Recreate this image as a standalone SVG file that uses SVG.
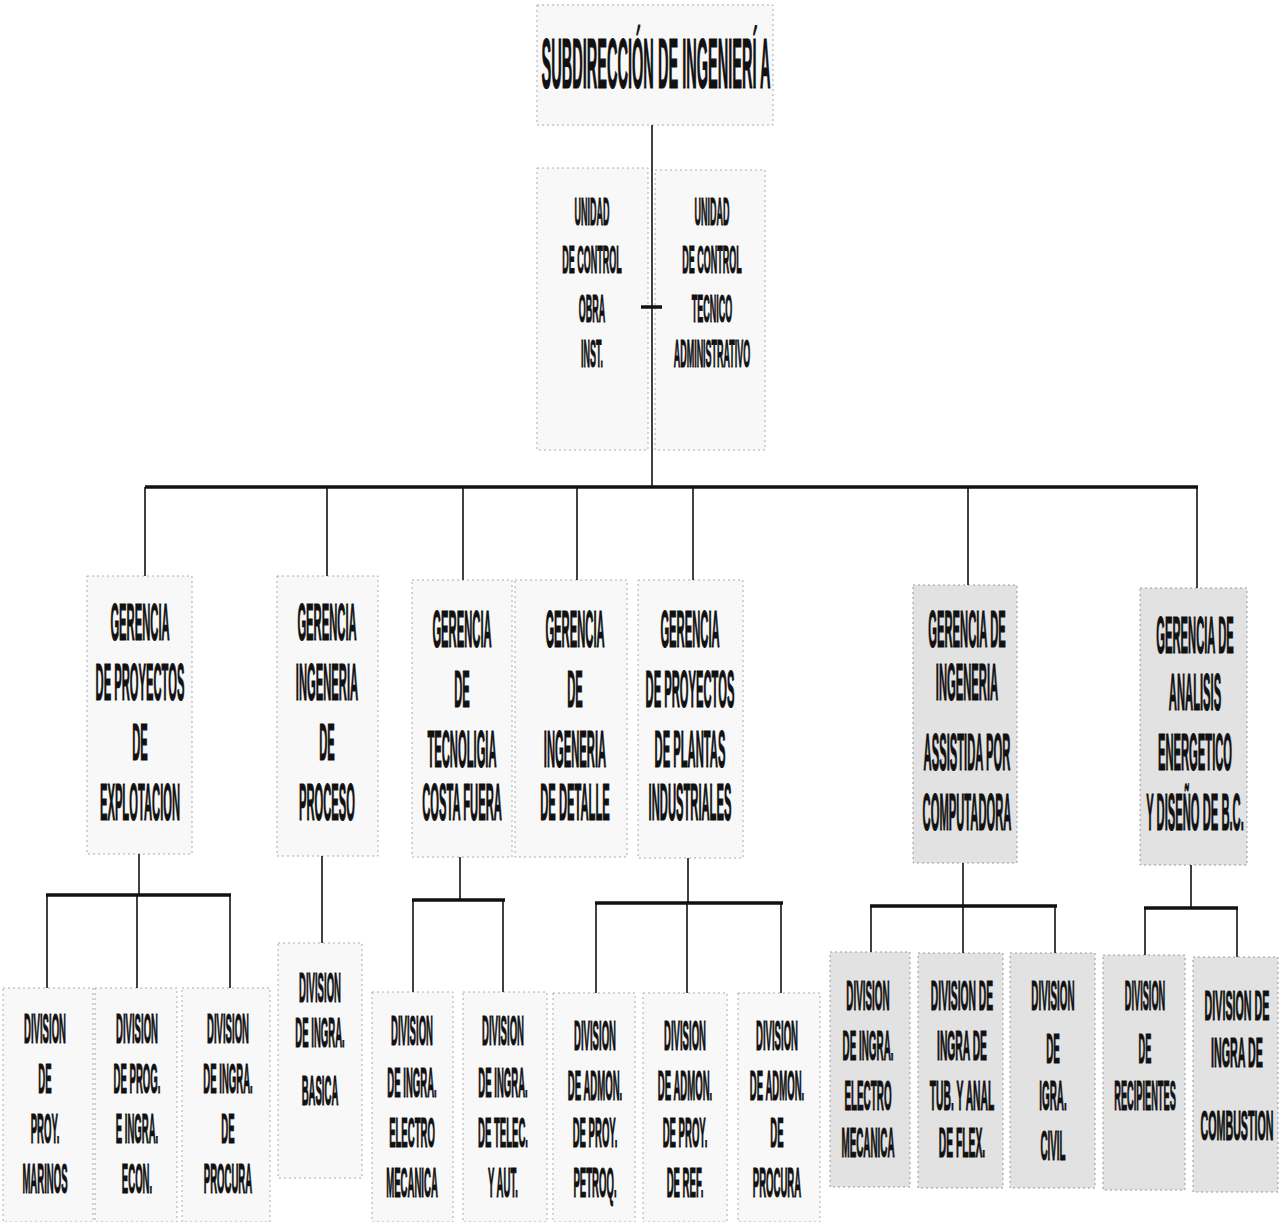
<svg xmlns="http://www.w3.org/2000/svg" width="1280" height="1222" viewBox="0 0 1280 1222">
<style>
.bx{fill:#f8f8f8;stroke:#aaa;stroke-width:1;stroke-dasharray:2 3}
.gx{fill:#e2e2e2;stroke:#999;stroke-width:1;stroke-dasharray:2 3}
text{font-family:"Liberation Sans",Arial,sans-serif;font-weight:bold;fill:#111;stroke:#111;stroke-width:1.2;text-anchor:middle}
.t{font-size:70px}
.u{font-size:39px}
.g{font-size:51px}
.d{font-size:42px}
.ln{stroke:#111;stroke-width:1.6;fill:none}
.bar{stroke:#111;stroke-width:3.5;fill:none}
</style>
<rect width="1280" height="1222" fill="#ffffff"/>
<g id="subdireccion">
<rect class="bx" x="537" y="5" width="236" height="120"/>
<g transform="translate(656,0) scale(0.208,1)"><text class="t" x="0" y="88">SUBDIRECCIÓN DE INGENIERÍ A</text></g>
</g>
<g id="unidad-obra">
<rect class="bx" x="537" y="168" width="111" height="282"/>
<g transform="translate(592,0) scale(0.23,1)">
<text class="u" x="0" y="225">UNIDAD</text><text class="u" x="0" y="273">DE CONTROL</text><text class="u" x="0" y="322">OBRA</text><text class="u" x="0" y="367">INST.</text>
</g>
</g>
<g id="unidad-tecnico">
<rect class="bx" x="655" y="170" width="110" height="280"/>
<g transform="translate(712,0) scale(0.23,1)">
<text class="u" x="0" y="225">UNIDAD</text><text class="u" x="0" y="273">DE CONTROL</text><text class="u" x="0" y="322">TECNICO</text><text class="u" x="0" y="367">ADMINISTRATIVO</text>
</g>
</g>
<g id="g-explotacion">
<rect class="bx" x="87" y="576" width="105" height="278"/>
<g transform="translate(140,0) scale(0.22,1)">
<text class="g" x="0" y="640">GERENCIA</text><text class="g" x="0" y="700">DE PROYECTOS</text><text class="g" x="0" y="760">DE</text><text class="g" x="0" y="820">EXPLOTACION</text>
</g>
</g>
<g id="g-proceso">
<rect class="bx" x="277" y="576" width="101" height="280"/>
<g transform="translate(327,0) scale(0.22,1)">
<text class="g" x="0" y="640">GERENCIA</text><text class="g" x="0" y="700">INGENERIA</text><text class="g" x="0" y="760">DE</text><text class="g" x="0" y="820">PROCESO</text>
</g>
</g>
<g id="g-costafuera">
<rect class="bx" x="412" y="580" width="100" height="277"/>
<g transform="translate(462,0) scale(0.22,1)">
<text class="g" x="0" y="647">GERENCIA</text><text class="g" x="0" y="707">DE</text><text class="g" x="0" y="767">TECNOLIGIA</text><text class="g" x="0" y="820">COSTA FUERA</text>
</g>
</g>
<g id="g-detalle">
<rect class="bx" x="515" y="580" width="112" height="277"/>
<g transform="translate(575,0) scale(0.22,1)">
<text class="g" x="0" y="647">GERENCIA</text><text class="g" x="0" y="707">DE</text><text class="g" x="0" y="767">INGENERIA</text><text class="g" x="0" y="820">DE DETALLE</text>
</g>
</g>
<g id="g-plantas">
<rect class="bx" x="638" y="580" width="105" height="278"/>
<g transform="translate(690,0) scale(0.22,1)">
<text class="g" x="0" y="647">GERENCIA</text><text class="g" x="0" y="707">DE PROYECTOS</text><text class="g" x="0" y="767">DE PLANTAS</text><text class="g" x="0" y="820">INDUSTRIALES</text>
</g>
</g>
<g id="g-computadora">
<rect class="gx" x="913" y="585" width="104" height="278"/>
<g transform="translate(967,0) scale(0.22,1)">
<text class="g" x="0" y="647">GERENCIA DE</text><text class="g" x="0" y="700">INGENERIA</text><text class="g" x="0" y="770">ASSISTIDA POR</text><text class="g" x="0" y="830">COMPUTADORA</text>
</g>
</g>
<g id="g-energetico">
<rect class="gx" x="1140" y="588" width="107" height="277"/>
<g transform="translate(1195,0) scale(0.22,1)">
<text class="g" x="0" y="653">GERENCIA DE</text><text class="g" x="0" y="710">ANALISIS</text><text class="g" x="0" y="770">ENERGETICO</text><text class="g" x="0" y="830">Y DISEÑO DE B.C.</text>
</g>
</g>
<g id="d-marinos">
<rect class="bx" x="3" y="988" width="90" height="234"/>
<g transform="translate(45,0) scale(0.228,1)">
<text class="d" x="0" y="1043">DIVISION</text><text class="d" x="0" y="1093">DE</text><text class="d" x="0" y="1143">PROY.</text><text class="d" x="0" y="1193">MARINOS</text>
</g>
</g>
<g id="d-econ">
<rect class="bx" x="95" y="988" width="82" height="234"/>
<g transform="translate(137,0) scale(0.228,1)">
<text class="d" x="0" y="1043">DIVISION</text><text class="d" x="0" y="1093">DE PROG.</text><text class="d" x="0" y="1143">E INGRA.</text><text class="d" x="0" y="1193">ECON.</text>
</g>
</g>
<g id="d-procura1">
<rect class="bx" x="182" y="988" width="88" height="234"/>
<g transform="translate(228,0) scale(0.228,1)">
<text class="d" x="0" y="1043">DIVISION</text><text class="d" x="0" y="1093">DE INGRA.</text><text class="d" x="0" y="1143">DE</text><text class="d" x="0" y="1193">PROCURA</text>
</g>
</g>
<g id="d-basica">
<rect class="bx" x="278" y="943" width="84" height="235"/>
<g transform="translate(320,0) scale(0.228,1)">
<text class="d" x="0" y="1002">DIVISION</text><text class="d" x="0" y="1047">DE INGRA.</text><text class="d" x="0" y="1105">BASICA</text>
</g>
</g>
<g id="d-electro1">
<rect class="bx" x="372" y="992" width="81" height="230"/>
<g transform="translate(412,0) scale(0.228,1)">
<text class="d" x="0" y="1045">DIVISION</text><text class="d" x="0" y="1097">DE INGRA.</text><text class="d" x="0" y="1147">ELECTRO</text><text class="d" x="0" y="1197">MECANICA</text>
</g>
</g>
<g id="d-telec">
<rect class="bx" x="463" y="992" width="84" height="230"/>
<g transform="translate(503,0) scale(0.228,1)">
<text class="d" x="0" y="1045">DIVISION</text><text class="d" x="0" y="1097">DE INGRA.</text><text class="d" x="0" y="1147">DE TELEC.</text><text class="d" x="0" y="1197">Y AUT.</text>
</g>
</g>
<g id="d-petroq">
<rect class="bx" x="553" y="993" width="82" height="229"/>
<g transform="translate(595,0) scale(0.228,1)">
<text class="d" x="0" y="1050">DIVISION</text><text class="d" x="0" y="1100">DE ADMON.</text><text class="d" x="0" y="1147">DE PROY.</text><text class="d" x="0" y="1197">PETROQ.</text>
</g>
</g>
<g id="d-ref">
<rect class="bx" x="643" y="993" width="84" height="229"/>
<g transform="translate(685,0) scale(0.228,1)">
<text class="d" x="0" y="1050">DIVISION</text><text class="d" x="0" y="1100">DE ADMON.</text><text class="d" x="0" y="1147">DE PROY.</text><text class="d" x="0" y="1197">DE REF.</text>
</g>
</g>
<g id="d-procura2">
<rect class="bx" x="738" y="993" width="82" height="229"/>
<g transform="translate(777,0) scale(0.228,1)">
<text class="d" x="0" y="1050">DIVISION</text><text class="d" x="0" y="1100">DE ADMON.</text><text class="d" x="0" y="1147">DE</text><text class="d" x="0" y="1197">PROCURA</text>
</g>
</g>
<g id="d-electro2">
<rect class="gx" x="830" y="952" width="80" height="235"/>
<g transform="translate(868,0) scale(0.235,1)">
<text class="d" x="0" y="1010">DIVISION</text><text class="d" x="0" y="1060">DE INGRA.</text><text class="d" x="0" y="1110">ELECTRO</text><text class="d" x="0" y="1157">MECANICA</text>
</g>
</g>
<g id="d-tuberia">
<rect class="gx" x="918" y="953" width="85" height="235"/>
<g transform="translate(962,0) scale(0.245,1)">
<text class="d" x="0" y="1010">DIVISION DE</text><text class="d" x="0" y="1060">INGRA DE</text><text class="d" x="0" y="1110">TUB. Y ANAL</text><text class="d" x="0" y="1157">DE FLEX.</text>
</g>
</g>
<g id="d-civil">
<rect class="gx" x="1010" y="953" width="85" height="235"/>
<g transform="translate(1053,0) scale(0.235,1)">
<text class="d" x="0" y="1010">DIVISION</text><text class="d" x="0" y="1063">DE</text><text class="d" x="0" y="1110">IGRA.</text><text class="d" x="0" y="1160">CIVIL</text>
</g>
</g>
<g id="d-recipientes">
<rect class="gx" x="1103" y="955" width="82" height="235"/>
<g transform="translate(1145,0) scale(0.22,1)">
<text class="d" x="0" y="1010">DIVISION</text><text class="d" x="0" y="1063">DE</text><text class="d" x="0" y="1110">RECIPIENTES</text>
</g>
</g>
<g id="d-combustion">
<rect class="gx" x="1193" y="957" width="85" height="235"/>
<g transform="translate(1237,0) scale(0.255,1)">
<text class="d" x="0" y="1020">DIVISION DE</text><text class="d" x="0" y="1067">INGRA DE</text><text class="d" x="0" y="1140">COMBUSTION</text>
</g>
</g>
<g id="connectors">
<line class="ln" x1="652" y1="125" x2="652" y2="487"/>
<line class="bar" x1="641" y1="307" x2="662" y2="307"/>
<line class="bar" x1="145" y1="487" x2="1198" y2="487"/>
<line class="ln" x1="145" y1="487" x2="145" y2="576"/>
<line class="ln" x1="327" y1="487" x2="327" y2="576"/>
<line class="ln" x1="463" y1="487" x2="463" y2="580"/>
<line class="ln" x1="577" y1="487" x2="577" y2="580"/>
<line class="ln" x1="693" y1="487" x2="693" y2="580"/>
<line class="ln" x1="968" y1="487" x2="968" y2="585"/>
<line class="ln" x1="1197" y1="487" x2="1197" y2="588"/>
<line class="ln" x1="139" y1="854" x2="139" y2="895"/>
<line class="bar" x1="46" y1="895" x2="231" y2="895"/>
<line class="ln" x1="47" y1="895" x2="47" y2="988"/>
<line class="ln" x1="137" y1="895" x2="137" y2="988"/>
<line class="ln" x1="230" y1="895" x2="230" y2="988"/>
<line class="ln" x1="322" y1="856" x2="322" y2="943"/>
<line class="ln" x1="460" y1="857" x2="460" y2="900"/>
<line class="bar" x1="412" y1="900" x2="505" y2="900"/>
<line class="ln" x1="413" y1="900" x2="413" y2="992"/>
<line class="ln" x1="503" y1="900" x2="503" y2="992"/>
<line class="ln" x1="688" y1="858" x2="688" y2="903"/>
<line class="bar" x1="595" y1="903" x2="783" y2="903"/>
<line class="ln" x1="596" y1="903" x2="596" y2="993"/>
<line class="ln" x1="687" y1="903" x2="687" y2="993"/>
<line class="ln" x1="781" y1="903" x2="781" y2="993"/>
<line class="ln" x1="963" y1="863" x2="963" y2="906"/>
<line class="bar" x1="870" y1="906" x2="1057" y2="906"/>
<line class="ln" x1="871" y1="906" x2="871" y2="952"/>
<line class="ln" x1="963" y1="906" x2="963" y2="953"/>
<line class="ln" x1="1055" y1="906" x2="1055" y2="953"/>
<line class="ln" x1="1191" y1="865" x2="1191" y2="908"/>
<line class="bar" x1="1144" y1="908" x2="1238" y2="908"/>
<line class="ln" x1="1145" y1="908" x2="1145" y2="955"/>
<line class="ln" x1="1237" y1="908" x2="1237" y2="957"/>
</g>
</svg>
